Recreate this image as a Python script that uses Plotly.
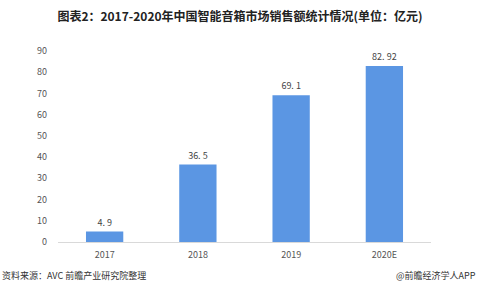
import plotly.graph_objects as go

categories = ["2017", "2018", "2019", "2020E"]
values = [4.9, 36.5, 69.1, 82.92]
value_labels = ["4. 9", "36. 5", "69. 1", "82. 92"]
y_ticks = [0, 10, 20, 30, 40, 50, 60, 70, 80, 90]

title_text = "图表2：2017-2020年中国智能音箱市场销售额统计情况(单位：亿元)"
source_text = "资料来源：AVC 前瞻产业研究院整理"
brand_text = "@前瞻经济学人APP"

FONT = "Noto Sans CJK SC"

fig = go.Figure()
fig.add_trace(go.Bar(
    x=categories, y=values,
    text=value_labels, textposition="outside",
    textfont=dict(size=9, color="#444444", family=FONT),
    marker=dict(color="#5B96E3", line=dict(width=0)),
    width=0.4, cliponaxis=False,
))

fig.update_layout(
    width=480, height=298,
    margin=dict(l=58, r=49, t=51, b=56),
    paper_bgcolor="white", plot_bgcolor="white",
    showlegend=False,
    font=dict(family=FONT, size=9, color="#555555"),
    title=dict(
        text="<b>" + title_text + "</b>", x=0.5, xanchor="center", y=0.945, yanchor="middle",
        font=dict(size=12, color="#222222", family=FONT),
    ),
    xaxis=dict(
        showgrid=False, showline=True, linecolor="#D9D9D9", linewidth=1,
        ticks="", ticklabelstandoff=4, tickfont=dict(size=9, color="#555555"),
    ),
    yaxis=dict(
        range=[0, 90], tickvals=y_ticks, showgrid=False, zeroline=False,
        showline=False, ticks="", ticklabelstandoff=10,
        tickfont=dict(size=9, color="#555555"),
    ),
)

fig.add_annotation(text=source_text, xref="paper", yref="paper", x=-58/373, y=-0.175,
                   xanchor="left", yanchor="middle", showarrow=False,
                   font=dict(size=9, color="#333333", family=FONT))
fig.add_annotation(text=brand_text, xref="paper", yref="paper", x=1 + 47/373, y=-0.175,
                   xanchor="right", yanchor="middle", showarrow=False,
                   font=dict(size=9, color="#333333", family=FONT))

fig.write_html("out.html")
